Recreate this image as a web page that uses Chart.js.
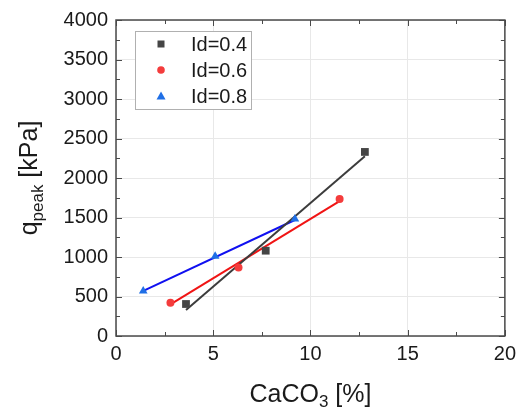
<!DOCTYPE html>
<html lang="en">
<head>
    <meta charset="UTF-8">
    <title>qpeak vs CaCO3</title>
    <script src="https://cdn.jsdelivr.net/npm/chart.js"></script>
    <style>
        body {
            margin: 0;
            padding: 0;
            background: #ffffff;
        }
        #wrap {
            width: 522px;
            height: 411px;
        }
    </style>
</head>
<body>
    <div id="wrap">
        <canvas id="qChart" width="522" height="411"></canvas>
    </div>

    <script>
        // values
        const ld04X = [3.6, 7.7, 12.8];
        const ld04Y = [405, 1080, 2330];
        const ld06X = [2.8, 6.3, 11.5];
        const ld06Y = [420, 868, 1733];
        const ld08X = [1.4, 5.1, 9.2];
        const ld08Y = [570, 1010, 1480];

        // fitted lines (end points)
        const fit04X = [3.6, 12.8];
        const fit04Y = [330, 2275];
        const fit06X = [2.8, 11.5];
        const fit06Y = [400, 1708];
        const fit08X = [1.35, 9.25];
        const fit08Y = [565, 1475];

        const seriesNames = ['Id=0.4', 'Id=0.6', 'Id=0.8'];
        const xTicks = [0, 5, 10, 15, 20];
        const yTicks = [0, 500, 1000, 1500, 2000, 2500, 3000, 3500, 4000];

        const FONT = '"Liberation Sans", Arial, sans-serif';
        const TXT = '#1a1a1a';
        const FRAME = '#4a4a4a';

        function pts(xs, ys) {
            return xs.map((x, i) => ({x: x, y: ys[i]}));
        }

        // frame, inward ticks, axis titles and legend
        const decor = {
            id: 'decor',
            afterDraw(chart) {
                const ctx = chart.ctx;
                const a = chart.chartArea;
                const xs = chart.scales.x;
                const ys = chart.scales.y;
                ctx.save();

                ctx.strokeStyle = FRAME;
                ctx.lineWidth = 1;
                // minor + major ticks
                for (let v = 0; v <= 20.001; v += 2.5) {
                    const px = Math.round(xs.getPixelForValue(v)) + 0.5;
                    const len = (v % 5 === 0) ? 6 : 4;
                    ctx.beginPath();
                    ctx.moveTo(px, a.bottom); ctx.lineTo(px, a.bottom - len);
                    ctx.moveTo(px, a.top); ctx.lineTo(px, a.top + len);
                    ctx.stroke();
                }
                for (let v = 0; v <= 4000; v += 250) {
                    const py = Math.round(ys.getPixelForValue(v)) + 0.5;
                    const len = (v % 500 === 0) ? 6 : 4;
                    ctx.beginPath();
                    ctx.moveTo(a.left, py); ctx.lineTo(a.left + len, py);
                    ctx.moveTo(a.right, py); ctx.lineTo(a.right - len, py);
                    ctx.stroke();
                }
                ctx.lineWidth = 1.5;
                ctx.strokeRect(a.left, a.top, a.right - a.left, a.bottom - a.top);

                // x title: CaCO3 [%]
                ctx.fillStyle = TXT;
                ctx.textBaseline = 'alphabetic';
                ctx.textAlign = 'left';
                const big = '25px ' + FONT;
                const sub = '17px ' + FONT;
                ctx.font = big;
                const w1 = ctx.measureText('CaCO').width;
                const w3 = ctx.measureText(' [%]').width;
                ctx.font = sub;
                const w2 = ctx.measureText('3').width;
                let x0 = (a.left + a.right) / 2 - (w1 + w2 + w3) / 2;
                const by = 402;
                ctx.font = big; ctx.fillText('CaCO', x0, by);
                ctx.font = sub; ctx.fillText('3', x0 + w1, by + 5);
                ctx.font = big; ctx.fillText(' [%]', x0 + w1 + w2, by);

                // y title: q_peak [kPa]
                ctx.save();
                ctx.translate(37, (a.top + a.bottom) / 2);
                ctx.rotate(-Math.PI / 2);
                ctx.font = big;
                const q1 = ctx.measureText('q').width;
                const q3 = ctx.measureText(' [kPa]').width;
                ctx.font = sub;
                const q2 = ctx.measureText('peak').width;
                x0 = -(q1 + q2 + q3) / 2;
                ctx.font = big; ctx.fillText('q', x0, 0);
                ctx.font = sub; ctx.fillText('peak', x0 + q1, 6);
                ctx.font = big; ctx.fillText(' [kPa]', x0 + q1 + q2, 0);
                ctx.restore();

                // legend box inside plot
                const lx = 135.5, ly = 31.5, lw = 116, lh = 78;
                ctx.fillStyle = '#ffffff';
                ctx.fillRect(lx, ly, lw, lh);
                ctx.strokeStyle = '#b0b0b0';
                ctx.lineWidth = 1;
                ctx.strokeRect(lx, ly, lw, lh);
                ctx.font = '20px ' + FONT;
                ctx.textBaseline = 'middle';
                const rows = [44, 70, 96];
                for (let i = 0; i < 3; i++) {
                    const ds = chart.data.datasets[i];
                    const cy = rows[i];
                    const cx = 161;
                    ctx.fillStyle = ds.backgroundColor;
                    ctx.beginPath();
                    if (ds.pointStyle === 'rect') {
                        ctx.rect(cx - 3.5, cy - 3.5, 7, 7);
                    } else if (ds.pointStyle === 'circle') {
                        ctx.arc(cx, cy, 3.8, 0, Math.PI * 2);
                    } else {
                        ctx.moveTo(cx, cy - 4.5);
                        ctx.lineTo(cx + 4.5, cy + 3.5);
                        ctx.lineTo(cx - 4.5, cy + 3.5);
                        ctx.closePath();
                    }
                    ctx.fill();
                    ctx.fillStyle = TXT;
                    ctx.fillText(seriesNames[i], 191, cy + 1);
                }
                ctx.restore();
            }
        };

        const ctx = document.getElementById('qChart').getContext('2d');
        new Chart(ctx, {
            type: 'scatter',
            data: {
                datasets: [
                    {label: seriesNames[0], data: pts(ld04X, ld04Y), pointStyle: 'rect', pointRadius: 5.5,
                     backgroundColor: '#454545', borderColor: '#454545', borderWidth: 0, order: 1},
                    {label: seriesNames[1], data: pts(ld06X, ld06Y), pointStyle: 'circle', pointRadius: 4,
                     backgroundColor: '#f43c3c', borderColor: '#f43c3c', borderWidth: 0, order: 1},
                    {label: seriesNames[2], data: pts(ld08X, ld08Y), pointStyle: 'triangle', pointRadius: 5,
                     backgroundColor: '#1f6fe6', borderColor: '#1f6fe6', borderWidth: 0, order: 1},
                    {label: 'fit 0.4', data: pts(fit04X, fit04Y), showLine: true, pointRadius: 0,
                     borderColor: '#3c3c3c', borderWidth: 2, order: 2},
                    {label: 'fit 0.6', data: pts(fit06X, fit06Y), showLine: true, pointRadius: 0,
                     borderColor: '#f01414', borderWidth: 2, order: 2},
                    {label: 'fit 0.8', data: pts(fit08X, fit08Y), showLine: true, pointRadius: 0,
                     borderColor: '#1010f0', borderWidth: 2, order: 2}
                ]
            },
            options: {
                responsive: false,
                animation: false,
                layout: {padding: {top: 20, right: 13, left: 0, bottom: 0}},
                plugins: {
                    legend: {display: false},
                    tooltip: {enabled: false}
                },
                scales: {
                    x: {
                        type: 'linear',
                        min: 0,
                        max: 20,
                        afterBuildTicks: s => { s.ticks = xTicks.map(v => ({value: v})); },
                        afterFit: s => { s.height = 75; },
                        grid: {color: '#e8e8e8', drawTicks: false},
                        border: {display: false},
                        ticks: {color: TXT, font: {family: FONT, size: 20}, padding: 6,
                                callback: v => String(v)}
                    },
                    y: {
                        type: 'linear',
                        min: 0,
                        max: 4000,
                        afterBuildTicks: s => { s.ticks = yTicks.map(v => ({value: v})); },
                        afterFit: s => { s.width = 116; },
                        grid: {color: '#e8e8e8', drawTicks: false},
                        border: {display: false},
                        ticks: {color: TXT, font: {family: FONT, size: 20}, padding: 8,
                                callback: v => String(v)}
                    }
                }
            },
            plugins: [decor]
        });
    </script>
</body>
</html>
